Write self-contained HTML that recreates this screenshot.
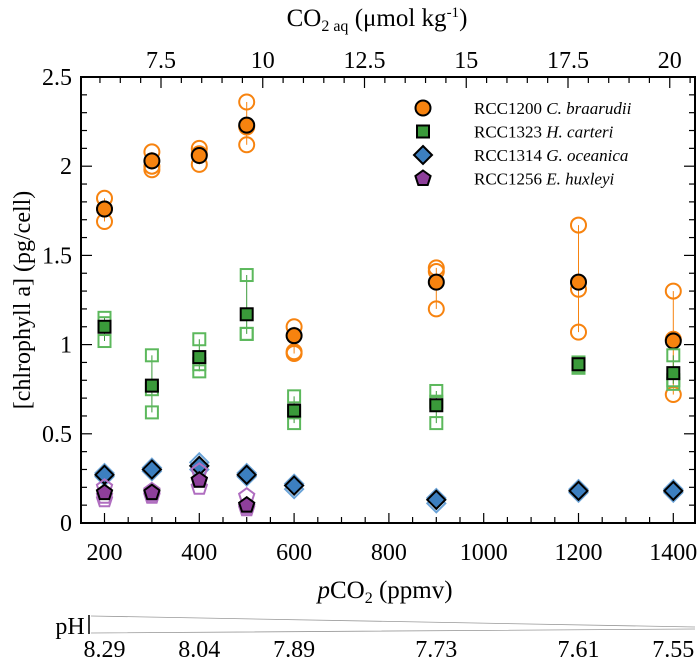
<!DOCTYPE html>
<html><head><meta charset="utf-8"><style>
html,body{margin:0;padding:0;background:#fff;width:700px;height:659px;overflow:hidden}
svg{display:block;font-family:"Liberation Serif",serif}
</style></head><body>
<svg id="chart" width="700" height="659" viewBox="0 0 700 659" xmlns="http://www.w3.org/2000/svg"></svg>
<script>
const pco2 = [200,300,400,500,600,900,1200,1400];
const xTicks = [200,400,600,800,1000,1200,1400];
const yTicks = [0,0.5,1,1.5,2,2.5];
const yTickLabels = ["0","0.5","1","1.5","2","2.5"];
const co2Ticks = [7.5,10,12.5,15,17.5,20];
const co2TickLabels = ["7.5","10","12.5","15","17.5","20"];
const phPco2 = [200,400,600,900,1200,1400];
const phLabels = ["8.29","8.04","7.89","7.73","7.61","7.55"];
const braMean = [1.76,2.03,2.06,2.23,1.05,1.35,1.35,1.02];
const braReps = [[1.82,1.69,1.76],[2.08,1.98,2.00],[2.10,2.01,2.07],[2.36,2.22,2.12],[1.10,0.95,0.96],[1.43,1.41,1.20],[1.67,1.31,1.07],[1.30,1.03,0.72]];
const carMean = [1.10,0.77,0.93,1.17,0.63,0.66,0.89,0.84];
const carReps = [[1.15,1.02,1.12],[0.94,0.62,0.75],[1.03,0.85,0.89],[1.39,1.06,1.06],[0.71,0.56,0.62],[0.74,0.56,0.68],[0.90,0.87,0.88],[0.94,0.78,0.80]];
const oceMean = [0.27,0.30,0.32,0.27,0.21,0.13,0.18,0.18];
const oceReps = [[0.28,0.26,0.27],[0.31,0.29,0.30],[0.34,0.30,0.32],[0.28,0.26,0.27],[0.22,0.19,0.21],[0.14,0.11,0.13],[0.19,0.17,0.18],[0.19,0.17,0.18]];
const huxPco2 = [200,300,400,500];
const huxMean = [0.17,0.17,0.24,0.10];
const huxReps = [[0.20,0.13,0.15],[0.18,0.15,0.16],[0.29,0.20,0.24],[0.15,0.08,0.09]];

const L=81,R=695,T=77,B=523;
const X=v=>104.5+(v-200)*0.474;
const Y=v=>B-v*178.4;
const XC=v=>161+(v-7.5)*40.7;
const svg=document.getElementById('chart');
const NS='http://www.w3.org/2000/svg';
function mk(tag,attrs,parent){const e=document.createElementNS(NS,tag);for(const k in attrs)e.setAttribute(k,attrs[k]);(parent||svg).appendChild(e);return e;}
function txt(s,x,y,size,anchor,parent){const e=mk('text',{x:x,y:y,'font-size':size,'text-anchor':anchor||'middle',fill:'#000'},parent);e.textContent=s;return e;}

const frame=mk('rect',{x:L,y:T,width:R-L,height:B-T,fill:'none',stroke:'#000','stroke-width':2});



for(let v=150;v<=1440;v+=50){const x=X(v);if(x<L||x>R)continue;const major=v%200===0;mk('line',{x1:x,x2:x,y1:B,y2:B-(major?10:6),stroke:'#000','stroke-width':1.2});}
xTicks.forEach(v=>{const t=txt(String(v),X(v),560,24);

});
for(let i=0;i<=25;i++){const v=i/10;const y=Y(v);const major=i%5===0;mk('line',{x1:L,x2:L+(major?11:6),y1:y,y2:y,stroke:'#000','stroke-width':1.2});mk('line',{x1:R,x2:R-(major?11:6),y1:y,y2:y,stroke:'#000','stroke-width':1.2});}
yTicks.forEach((v,i)=>{const t=txt(yTickLabels[i],72,Y(v)+8,24,'end');

});
for(let v=5.5;v<=21;v+=0.5){const x=XC(v);if(x<L||x>R)continue;const major=Math.abs(v/2.5-Math.round(v/2.5))<1e-6;mk('line',{x1:x,x2:x,y1:T,y2:T+(major?11:6),stroke:'#000','stroke-width':1.2});}
co2Ticks.forEach((v,i)=>{const t=txt(co2TickLabels[i],XC(v),68,24);

});

const tt=mk('text',{x:377,y:26,'font-size':25,'text-anchor':'middle'});


tt.innerHTML='CO<tspan font-size="16" dy="5">2 aq</tspan><tspan dy="-5"> (μmol kg</tspan><tspan font-size="15" dy="-9">-1</tspan><tspan dy="9">)</tspan>';
const xt=mk('text',{x:385,y:598,'font-size':25,'text-anchor':'middle'});


xt.innerHTML='<tspan font-style="italic">p</tspan>CO<tspan font-size="16" dy="5">2</tspan><tspan dy="-5"> (ppmv)</tspan>';
const yt=mk('text',{x:0,y:0,'font-size':24,'text-anchor':'middle',transform:'translate(30,300) rotate(-90)'});
yt.textContent='[chlrophyll a] (pg/cell)';



const ph=txt('pH',70,634,24);


mk('line',{x1:89,x2:89,y1:615,y2:634,stroke:'#000','stroke-width':1.5});
mk('path',{d:'M91 616 L695 627 M91 633 L695 629',stroke:'#999','stroke-width':0.8,fill:'none'});
phPco2.forEach((v,i)=>{const t=txt(phLabels[i],X(v),657,24);

});

function shape(kind,x,y,fill,stroke,sw,parent){
 if(kind==='circle')return mk('circle',{cx:x,cy:y,r:7.5,fill:fill,stroke:stroke,'stroke-width':sw},parent);
 if(kind==='square')return mk('rect',{x:x-6,y:y-6,width:12,height:12,fill:fill,stroke:stroke,'stroke-width':sw},parent);
 if(kind==='diamond')return mk('path',{d:`M${x} ${y-9}L${x+9} ${y}L${x} ${y+9}L${x-9} ${y}Z`,fill:fill,stroke:stroke,'stroke-width':sw},parent);
 const pts=[];for(let k=0;k<5;k++){const a=-Math.PI/2+k*2*Math.PI/5;pts.push((x+8*Math.cos(a)).toFixed(1)+','+(y+8*Math.sin(a)).toFixed(1));}
 return mk('polygon',{points:pts.join(' '),fill:fill,stroke:stroke,'stroke-width':sw},parent);
}
function series(name,kind,xs,means,reps,color,light){
 const g=mk('g',{});
 
 
 xs.forEach((p,i)=>{const x=X(p);const r=reps[i];
  mk('line',{x1:x,x2:x,y1:Y(Math.max(...r)),y2:Y(Math.min(...r)),stroke:color,'stroke-width':1},g);
  r.forEach(v=>{const m=shape(kind,x,Y(v),'none',light,2,g);
   
   });
 });
 xs.forEach((p,i)=>{const m=shape(kind,X(p),Y(means[i]),color,'#000',2,g);
  
  });
}
series('braarudii','circle',pco2,braMean,braReps,'#f7830f','#f7830f');
series('carteri','square',pco2,carMean,carReps,'#3a9a3a','#5cb85c');
series('oceanica','diamond',pco2,oceMean,oceReps,'#3c7fc0','#6aa3d8');
series('huxleyi','pentagon',huxPco2,huxMean,huxReps,'#8e3f9b','#b06ec0');

const leg=[['circle','#f7830f','RCC1200 ','C. braarudii'],['square','#3a9a3a','RCC1323 ','H. carteri'],['diamond','#3c7fc0','RCC1314 ','G. oceanica'],['pentagon','#8e3f9b','RCC1256 ','E. huxleyi']];
const lg=mk('g',{});


leg.forEach((l,i)=>{const y=108+i*23.5;
 const m=shape(l[0],423,y,l[1],'#000',2,lg);
 
 
 const t=mk('text',{x:474,y:y+6,'font-size':17},lg);
 
 
 t.innerHTML=l[2]+'<tspan font-style="italic">'+l[3]+'</tspan>';
});
</script>
</body></html>
